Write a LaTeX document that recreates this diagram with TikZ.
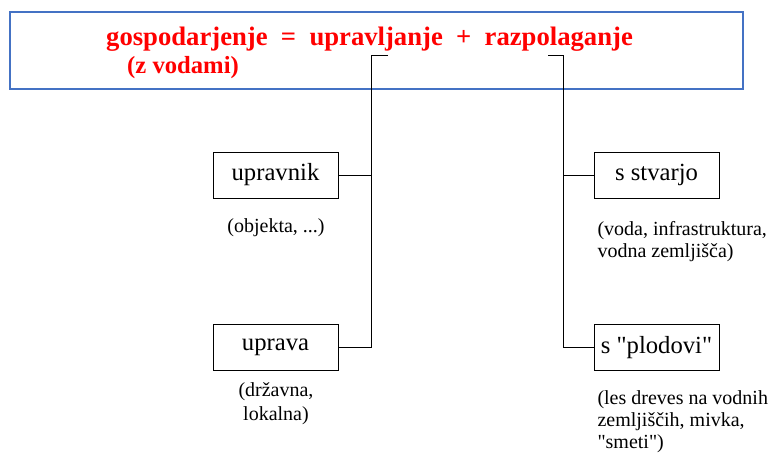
\documentclass[tikz,border=0pt]{standalone}
\usepackage{fontspec}
\setmainfont{Liberation Serif}
\usepackage{tikz}
\usetikzlibrary{positioning}
\definecolor{titlered}{RGB}{255,0,0}
\definecolor{frameblue}{RGB}{68,114,196}

\begin{document}
\begin{tikzpicture}[x=0.75pt, y=-0.75pt, line width=0.75pt,
    main/.style = {draw, minimum width=93.75pt, minimum height=34.5pt, inner sep=0pt, font=\fontsize{18.5}{21}\selectfont},
    note/.style = {inner sep=0pt, font=\fontsize{15}{16.5}\selectfont}]
            \useasboundingbox (0,0) rectangle (770,454);
            % title frame
            \draw[frameblue, line width=1.5pt] (10,12) rectangle (743,89);
            \node[anchor=base, text=titlered, font=\fontsize{20}{24}\selectfont\bfseries] (title) at (369.5,45) {gospodarjenje \ = \ upravljanje \ + \ razpolaganje};
            \node[anchor=base, text=titlered, font=\fontsize{18.5}{22}\selectfont\bfseries] (sub) at (183,73) {(z vodami)};
            % boxes
            \node[main] (upravnik) at (275.5,175) {upravnik};
            \node[main] (uprava) at (275.5,347.5) {uprava};
            \node[main] (stvar) at (656.5,175) {s stvarjo};
            \node[main] (plodovi) at (656.5,347.5) {s \textquotedbl plodovi\textquotedbl};
            % notes
            \node[note] (n1) at (276,228) {(objekta, ...)};
            \node[note, align=center, anchor=north, font=\fontsize{15}{18}\selectfont] (n2) at (276,382) {(državna,\\ lokalna)};
            \node[note, align=left, anchor=north west] (n3) at (597,221) {(voda, infrastruktura,\\ vodna zemljišča)};
            \node[note, align=left, anchor=north west] (n4) at (597,390) {(les dreves na vodnih\\ zemljiščih, mivka,\\ \textquotedbl smeti\textquotedbl)};
            % connectors
            \coordinate (lt) at (388,55);
            \coordinate (lc) at (371,55);
            \coordinate (rt) at (548,55);
            \coordinate (rc) at (563,55);
            \draw (lt) -- (lc) |- (uprava.east);
            \draw (upravnik.east) -- (upravnik.east -| lc);
            \draw (rt) -- (rc) |- (plodovi.west);
            \draw (stvar.west) -- (stvar.west -| rc);
        \end{tikzpicture}
\end{document}
